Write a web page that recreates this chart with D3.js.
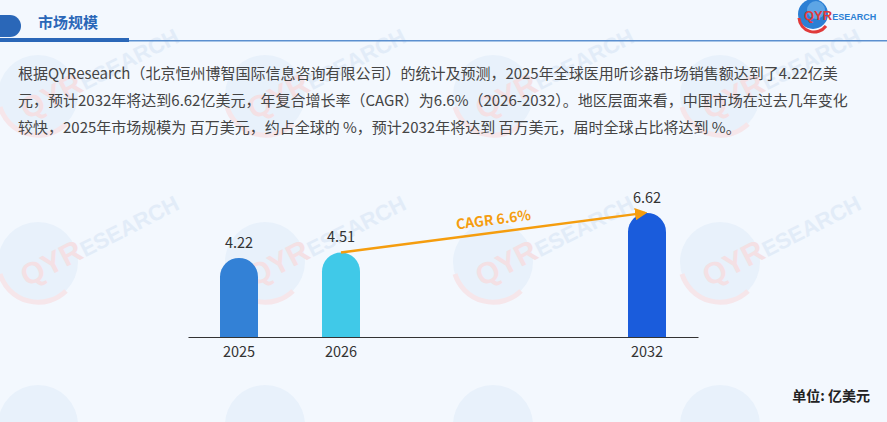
<!DOCTYPE html>
<html><head><meta charset="utf-8">
<script src="https://cdn.jsdelivr.net/npm/d3@7"></script>
<style>
html,body{margin:0;padding:0;background:#f3f8fe;}
svg{display:block;font-family:"Noto Sans CJK SC","Noto Sans",sans-serif;}
</style></head>
<body>
<svg id="c" width="887" height="422"></svg>
<script>
const categories = ["2025","2026","","","2032"];
const values = [4.22, 4.51, null, null, 6.62];
const barColors = ["#3381d6","#40c9e8",null,null,"#1a5cdc"];
const title = "市场规模";
const paragraph = [
 "根据QYResearch（北京恒州博智国际信息咨询有限公司）的统计及预测，2025年全球医用听诊器市场销售额达到了4.22亿美",
 "元，预计2032年将达到6.62亿美元，年复合增长率（CAGR）为6.6%（2026-2032）。地区层面来看，中国市场在过去几年变化",
 "较快，2025年市场规模为 百万美元，约占全球的 %，预计2032年将达到 百万美元，届时全球占比将达到 %。"
];
const cagrLabel = "CAGR 6.6%";
const unitLabel = "单位: 亿美元";
const wmCols = [38, 265, 493, 720];
const wmRows = [95, 262, 425];

const svg = d3.select("#c");
svg.append("rect").attr("width",887).attr("height",422).attr("fill","#f3f8fe");

// faint watermark tiles
const wm = svg.append("g");
wmRows.forEach(yy=>wmCols.forEach(xx=>{
  wm.append("circle").attr("cx",xx).attr("cy",yy).attr("r",40).attr("fill","#e8f1fb");
  wm.append("path").attr("d",`M${xx-38},${yy+12} A40,40 0 0 0 ${xx+28},${yy+29}`)
    .attr("stroke","#f6e6ea").attr("stroke-width",5).attr("fill","none");
  if (yy < 300) {
    const t = wm.append("text").attr("transform",`translate(${xx-11},${yy+25}) rotate(-27)`)
      .attr("font-family","Arial").attr("font-weight","bold");
    t.append("tspan").attr("font-size",30).attr("fill","#f4e0e4").text("QYR");
    t.append("tspan").attr("font-size",22).attr("fill","#e2ecf8").text("ESEARCH");
  }
}));

// header
svg.append("path").attr("d","M0,15 L10,15 A11,11 0 0 1 10,37 L0,37 Z").attr("fill","#2a67b8");
svg.append("rect").attr("x",0).attr("y",38).attr("width",129).attr("height",4).attr("fill","#2a67b8");
svg.append("rect").attr("x",129).attr("y",40).attr("width",758).attr("height",1.5).attr("fill","#5b8fcf");
svg.append("text").attr("x",38).attr("y",28).attr("font-size",15).attr("font-weight","bold")
  .attr("fill","#2a67b8").text(title);

// logo
const lg = svg.append("g");
lg.append("circle").attr("cx",813).attr("cy",14).attr("r",15).attr("fill","#2b7fd4");
lg.append("circle").attr("cx",816).attr("cy",10).attr("r",9).attr("fill","#7fbef0").attr("opacity",0.6);
lg.append("path").attr("d","M799,18 A15,15 0 0 0 826,26").attr("stroke","#e03a3a").attr("stroke-width",3).attr("fill","none");
const lt = lg.append("text").attr("x",804).attr("y",20).attr("font-weight","bold").attr("font-family","Arial");
lt.append("tspan").attr("font-size",13).attr("fill","#e03a3a").text("QY");
lt.append("tspan").attr("font-size",13).attr("fill","#e03a3a").text("R");
lt.append("tspan").attr("font-size",9).attr("fill","#2b7fd4").text("ESEARCH");

// paragraph
const pt = svg.append("text").attr("font-size",15).attr("fill","#444");
paragraph.forEach((l,i)=>pt.append("tspan").attr("x",18).attr("y",79+i*27).text(l));

// chart
const x = d3.scaleBand().domain(categories.map((c,i)=>i)).range([188,698]).padding(0);
const y = d3.scaleLinear().domain([0,7]).range([337,337-7*18.75]);
const bw = 38;
const g = svg.append("g");
values.forEach((v,i)=>{
  if(v==null) return;
  const cx = x(i)+x.bandwidth()/2, r=bw/2, top=y(v), base=y(0);
  g.append("path").attr("d",`M${cx-r},${base} L${cx-r},${top+r} A${r},${r} 0 0 1 ${cx+r},${top+r} L${cx+r},${base} Z`)
    .attr("fill",barColors[i]);
  g.append("text").attr("x",cx).attr("y",top-10).attr("text-anchor","middle")
    .attr("font-size",14.5).attr("fill","#333").text(v.toFixed(2));
});
// axis
const ax = svg.append("g").attr("transform",`translate(0,${y(0)})`)
  .call(d3.axisBottom(x).tickSize(0).tickFormat(i=>categories[i]));
ax.select(".domain").attr("stroke","#333").attr("stroke-width",1.2);
ax.selectAll("text").attr("font-size",14.5).attr("fill","#333").attr("dy","1.2em")
  .style("font-family","'Noto Sans CJK SC','Noto Sans',sans-serif");

// CAGR arrow
const i1=1,i2=4;
const x1 = x(i1)+x.bandwidth()/2, y1=y(values[i1]);
const x2 = x(i2)+x.bandwidth()/2, y2=y(values[i2]);
svg.append("defs").append("marker").attr("id","ah").attr("viewBox","0 0 10 10")
  .attr("refX",8).attr("refY",5).attr("markerWidth",5).attr("markerHeight",5).attr("orient","auto")
  .append("path").attr("d","M0,0 L10,5 L0,10 Z").attr("fill","#f59d0e");
svg.append("line").attr("x1",x1).attr("y1",y1).attr("x2",x2-2).attr("y2",y2)
  .attr("stroke","#f59d0e").attr("stroke-width",2.5).attr("marker-end","url(#ah)");
const ang = Math.atan2(y2-y1,x2-x1)*180/Math.PI;
const mx=(x1+x2)/2, my=(y1+y2)/2;
svg.append("text").attr("transform",`translate(${mx},${my-8}) rotate(${ang})`).attr("text-anchor","middle")
  .attr("font-size",14).attr("font-weight","bold").attr("fill","#f59d0e").text(cagrLabel);

svg.append("text").attr("x",870).attr("y",401).attr("text-anchor","end").attr("font-size",14)
  .attr("font-weight","bold").attr("fill","#222").text(unitLabel);
</script>
</body></html>
